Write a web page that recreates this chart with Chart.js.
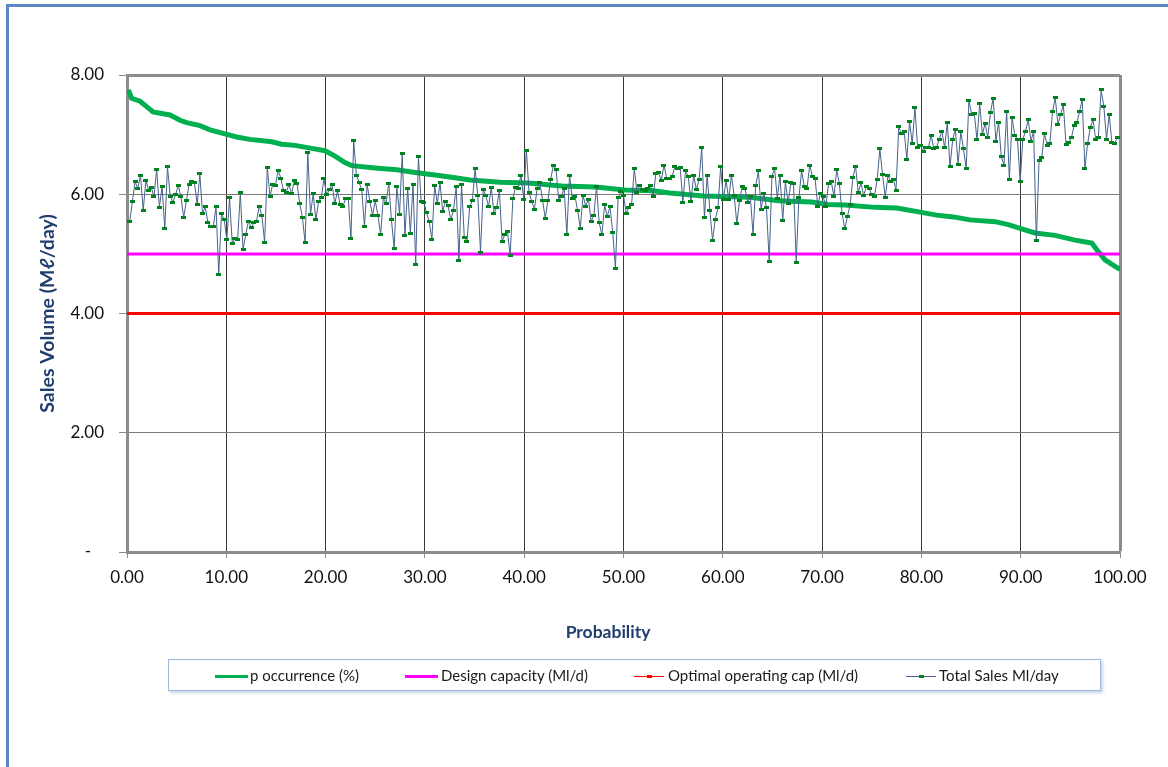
<!DOCTYPE html>
<html>
<head>
<meta charset="utf-8">
<script src="https://cdn.jsdelivr.net/npm/chart.js@4.4.1/dist/chart.umd.min.js"></script>
<style>
  html, body { margin: 0; padding: 0; background: #fff; overflow: hidden; }
  #wrap { position: relative; width: 1168px; height: 767px; overflow: hidden; }
  #frame { position: absolute; left: 6px; top: 4px; width: 1200px; height: 820px;
           border-left: 3px solid #5B87C5; border-top: 3px solid #5B87C5; }
  #c { position: absolute; left: 0; top: 0; }
  #xtitle { position: absolute; left: 508px; width: 200px; top: 621px; text-align: center;
            font-family: Lato, sans-serif; font-weight: bold; font-size: 17.5px; color: #1F3E6E; line-height: 22px; }
  #legend { position: absolute; left: 168px; top: 659px; width: 931px; height: 30px;
            border: 1px solid #9DB9DE; box-shadow: 2px 2px 3px #c5d5ea; background: #fff;
            font-family: Lato, "Open Sans", sans-serif; font-size: 15px; color: #1a1a1a; }
  .txt { position: absolute; top: 0; height: 30px; line-height: 30px; white-space: nowrap; }
  .sw { position: absolute; }
  .mk { position: absolute; width: 5px; height: 3px; }
</style>
</head>
<body>
<div id="wrap">
  <div id="frame"></div>
  <canvas id="c" width="1168" height="767"></canvas>
  <div id="xtitle">Probability</div>
  <div id="legend">
    <div class="sw" style="left:46px;top:15px;width:33px;height:3px;background:#00B050"></div>
    <div class="txt" style="left:81px">p occurrence (%)</div>
    <div class="sw" style="left:236px;top:15px;width:33px;height:3px;background:#FF00FF"></div>
    <div class="txt" style="left:272px">Design capacity (Ml/d)</div>
    <div class="sw" style="left:465px;top:16px;width:30px;height:1px;background:#FF0000"></div>
    <div class="mk" style="left:478px;top:15px;background:#FF0000"></div>
    <div class="txt" style="left:499px">Optimal operating cap (Ml/d)</div>
    <div class="sw" style="left:737px;top:16px;width:30px;height:1px;background:#46628C"></div>
    <div class="mk" style="left:750px;top:15px;background:#00821E"></div>
    <div class="txt" style="left:770px">Total Sales Ml/day</div>
  </div>
</div>
<script>
// ---- Data ----
// Total Sales Ml/day (one value per ranked day, left to right)
const totalSales = [
  5.54,5.88,6.21,6.10,6.32,5.73,6.23,6.07,6.11,5.97,
  6.41,5.78,6.13,5.42,6.46,5.97,5.87,5.99,6.15,5.96,
  5.61,5.89,6.16,6.22,6.19,5.83,6.34,5.67,5.79,5.52,
  5.46,5.46,5.79,4.66,5.67,5.58,5.24,5.94,5.18,5.26,
  5.24,6.03,5.07,5.32,5.55,
  5.44,5.52,5.55,5.80,5.64,5.19,6.45,5.96,6.17,6.14,
  6.40,6.27,6.06,6.03,6.16,6.01,6.23,6.18,5.85,5.61,
  5.19,6.70,5.66,6.01,5.57,5.88,5.94,6.26,5.99,6.08,
  6.16,5.84,6.06,5.82,5.79,5.93,5.93,5.25,6.90,6.32,
  6.20,6.08,5.46,6.16,5.88,5.65,
  5.89,5.64,5.33,5.94,5.85,6.18,5.57,5.09,6.13,5.66,
  6.69,5.31,6.10,5.35,6.16,4.83,6.64,5.88,5.87,5.69,
  5.54,5.24,6.15,5.84,6.19,5.71,5.88,5.81,5.57,5.73,
  6.13,4.89,6.16,5.28,5.21,5.79,5.89,6.43,5.98,5.03,
  6.08,5.98,5.79,6.12,5.68,5.78,
  6.07,5.21,5.32,5.37,4.97,5.93,6.12,6.10,6.32,5.92,
  6.74,6.03,5.88,5.75,6.10,6.20,5.90,5.60,5.90,6.25,
  6.48,6.42,5.90,5.97,6.10,5.32,6.32,5.93,5.97,5.73,
  5.43,5.98,5.80,5.92,5.55,5.64,6.13,5.52,5.32,5.82,
  5.63,5.79,5.36,4.76,5.94,6.04,
  5.98,5.68,5.78,5.83,6.43,6.03,6.15,6.08,6.07,6.10,
  6.15,5.96,6.35,6.36,6.23,6.49,6.27,6.26,6.29,6.46,
  6.44,6.45,5.87,6.40,6.29,5.88,6.32,6.08,6.24,6.78,
  5.61,6.32,5.73,5.23,5.57,5.77,6.46,5.92,6.23,5.92,
  6.32,5.98,5.51,5.89,6.13,6.10,
  5.87,5.96,5.33,6.14,6.39,5.75,6.02,5.77,4.88,6.30,
  6.43,5.93,6.32,5.56,6.21,5.85,6.19,6.18,4.86,5.94,
  6.39,6.13,6.09,6.49,6.30,6.26,5.80,6.02,5.96,5.80,
  6.18,6.21,5.96,6.41,6.18,5.68,5.42,5.63,5.82,6.28,
  6.47,6.03,6.19,5.98,6.13,6.10,
  5.99,5.97,6.24,6.76,6.33,5.95,6.31,6.22,6.25,6.07,
  7.13,7.02,7.06,6.59,7.22,6.85,7.45,6.78,6.82,6.72,
  6.79,6.78,6.99,6.77,6.79,6.92,7.06,6.78,7.20,6.46,
  6.92,7.08,6.50,7.05,6.76,6.43,7.58,7.34,7.36,6.91,
  7.52,7.00,7.19,6.95,7.37,7.61,6.89,
  7.21,6.63,6.49,7.39,6.24,7.28,6.99,6.92,6.21,6.92,
  7.06,7.25,6.89,7.06,5.22,6.56,6.61,7.02,6.82,6.85,
  7.38,7.62,7.17,7.33,7.50,6.83,6.87,6.95,7.15,7.20,
  7.38,7.59,6.43,6.85,7.12,7.25,6.92,6.96,7.75,7.48,
  6.92,7.34,6.86,6.85,6.95
];

// p occurrence (%) curve, read at points along the thick green line
const pOccurrenceX = [0.13,0.47,1.31,1.98,2.62,4.33,5.34,6.01,7.35,8.36,
  9.67,11.05,12.39,14.57,15.58,16.92,18.60,19.94,20.95,21.95,
  22.63,24.97,27.16,28.83,31.19,32.86,34.54,36.22,37.56,40.38,
  43.78,47.13,50.15,53.00,54.68,58.04,62.74,65.59,68.95,70.62,
  72.31,75.33,77.51,79.86,81.54,83.21,84.89,87.41,88.75,90.10,
  91.44,93.45,95.47,97.15,97.81,98.49,99.50,100];
const pOccurrenceY = [7.75,7.61,7.56,7.47,7.38,7.33,7.24,7.20,7.15,7.08,
  7.02,6.96,6.92,6.88,6.84,6.82,6.77,6.73,6.64,6.53,
  6.48,6.44,6.41,6.37,6.32,6.28,6.24,6.22,6.20,6.19,
  6.14,6.12,6.07,6.06,6.02,5.97,5.95,5.89,5.87,5.83,
  5.82,5.78,5.77,5.70,5.65,5.62,5.57,5.54,5.49,5.42,
  5.35,5.31,5.23,5.18,5.04,4.90,4.79,4.74];

const designCapacity = 5.0;   // Ml/d
const optimalCapacity = 4.0;  // Ml/d
const xRange = [0, 100];
const yRange = [0, 8];

// ---- Chart ----
const marker = document.createElement('canvas');
marker.width = 5; marker.height = 3;
(function(){ const g = marker.getContext('2d'); g.fillStyle = '#00821E'; g.fillRect(0,0,5,3); })();

const n = totalSales.length;
const salesPts = totalSales.map((v, i) => ({ x: (i + 1) * 100 / (n + 1), y: v }));
const pPts = pOccurrenceX.map((x, i) => ({ x: x, y: pOccurrenceY[i] }));

const frameColor = '#8C8C8C';

new Chart(document.getElementById('c'), {
  type: 'line',
  data: {
    datasets: [
      { label: 'Total Sales Ml/day', data: salesPts, borderColor: '#46628C', borderWidth: 1,
        pointStyle: marker, pointRadius: 2, tension: 0, order: 0 },
      { label: 'Optimal operating cap (Ml/d)', data: [{x: xRange[0], y: optimalCapacity}, {x: xRange[1], y: optimalCapacity}],
        borderColor: '#FF0000', borderWidth: 3, pointRadius: 0, order: 1 },
      { label: 'Design capacity (Ml/d)', data: [{x: xRange[0], y: designCapacity}, {x: xRange[1], y: designCapacity}],
        borderColor: '#FF00FF', borderWidth: 3, pointRadius: 0, order: 2 },
      { label: 'p occurrence (%)', data: pPts, borderColor: '#00B050', borderWidth: 5,
        pointRadius: 0, tension: 0, order: 3 }
    ]
  },
  options: {
    responsive: false,
    animation: false,
    events: [],
    layout: { padding: { left: 0, top: 75, right: 48, bottom: 0 } },
    plugins: { legend: { display: false }, tooltip: { enabled: false } },
    scales: {
      x: {
        type: 'linear', min: xRange[0], max: xRange[1],
        ticks: { stepSize: 10, callback: v => Number(v).toFixed(2), color: '#111',
                 font: { family: 'Lato', size: 17 }, padding: 9, maxRotation: 0 },
        grid: {
          color: c => (c.tick && c.tick.value === 100) ? frameColor : '#3A3A3A',
          lineWidth: c => (c.tick && c.tick.value === 100) ? 3 : 1,
          tickLength: 6, tickColor: frameColor, tickWidth: 1
        },
        border: { color: frameColor, width: 3 },
        title: { display: false },
        afterFit: s => { s.height = 215; }
      },
      y: {
        type: 'linear', min: yRange[0], max: yRange[1],
        ticks: { stepSize: 2, callback: v => v === 0 ? '-   ' : Number(v).toFixed(2), color: '#111',
                 font: { family: 'Lato', size: 17 }, padding: 15 },
        grid: {
          color: c => (c.tick && c.tick.value === 8) ? frameColor : '#7A7A7A',
          lineWidth: c => (c.tick && c.tick.value === 8) ? 3 : 1,
          tickLength: 8, tickColor: frameColor, tickWidth: 1
        },
        border: { color: frameColor, width: 3 },
        title: { display: true, text: 'Sales Volume (Mℓ/day)', color: '#1F3E6E',
                 font: { family: 'Lato', size: 19.5, weight: 'bold' }, padding: { top: 36, bottom: 0 } },
        afterFit: s => { s.width = 127; }
      }
    }
  }
});
</script>
</body>
</html>
